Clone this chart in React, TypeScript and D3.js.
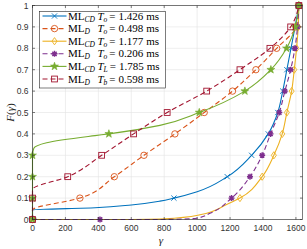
import React from 'react';
import * as d3 from 'd3';

// F(gamma) deciles: gamma value where each series reaches 0, 0.1, ..., 1
const levels = [0, 0.1, 0.2, 0.3, 0.4, 0.5, 0.6, 0.7, 0.8, 0.9, 1];

const blueDeciles = [0, 859, 1183, 1331, 1432, 1490, 1520, 1545, 1570, 1595, 1618];
const orangeDeciles = [0, 288, 497, 677, 865, 1043, 1215, 1357, 1483, 1600, 1618];
const yellowDeciles = [0, 1260, 1395, 1466, 1517, 1545, 1574, 1590, 1604, 1614, 1618];
const purpleDeciles = [410, 1209, 1321, 1395, 1446, 1499, 1533, 1568, 1594, 1610, 1618];
const greenDeciles = [0, 0, 0, 0, 464, 1013, 1290, 1448, 1543, 1596, 1618];
const redDeciles = [0, 0, 214, 420, 614, 818, 1058, 1260, 1442, 1568, 1618];

// extra points read along the curves between markers, [gamma, F]
const blueExtra = [[0, 0.045], [380, 0.055], [600, 0.068], [774, 0.086], [1000, 0.13]];
const orangeExtra = [[0, 0.044]];
const yellowExtra = [[600, 0], [800, 0.003], [1017, 0.022], [1179, 0.07]];
const purpleExtra = [[0, 0], [800, 0.0], [997, 0.006], [1078, 0.029]];
const greenExtra = [[8, 0.333], [86, 0.359], [380, 0.392], [774, 0.44]];
const redExtra = [[0, 0.14]];

const legendLabels = [
  ['CD', 'o', '1.426'],
  ['D', 'o', '0.498'],
  ['CD', 'o', '1.177'],
  ['D', 'o', '0.206'],
  ['CD', 'L', '1.785'],
  ['D', 'b', '0.598'],
];

const xTicks = [0, 200, 400, 600, 800, 1000, 1200, 1400, 1600];
const yTicks = levels;

const series = [
  { deciles: blueDeciles, extra: blueExtra, color: '#0072BD', dash: '', marker: 'x' },
  { deciles: orangeDeciles, extra: orangeExtra, color: '#D95319', dash: '5,3', marker: 'o' },
  { deciles: yellowDeciles, extra: yellowExtra, color: '#EDB120', dash: '', marker: 'd' },
  { deciles: purpleDeciles, extra: purpleExtra, color: '#7E2F8E', dash: '5,3', marker: '*' },
  { deciles: greenDeciles, extra: greenExtra, color: '#77AC30', dash: '', marker: 'p' },
  { deciles: redDeciles, extra: redExtra, color: '#A2142F', dash: '5,3', marker: 's' },
];

const W = 307;
const H = 249;
const left = 32.5;
const right = 302.5;
const top = 5.5;
const bottom = 219.5;
const axisColor = '#262626';

function Marker({ type, x, y, color }: { type: string; x: number; y: number; color: string }) {
  const sw = 0.9;
  if (type === 'x') {
    const r = 2.6;
    return (
      <path d={`M${x - r},${y - r}L${x + r},${y + r}M${x - r},${y + r}L${x + r},${y - r}`} stroke={color} strokeWidth={sw} />
    );
  }
  if (type === 'o') return <circle cx={x} cy={y} r={3.2} fill="none" stroke={color} strokeWidth={sw} />;
  if (type === 'd') {
    const r = 3.6;
    return <path d={`M${x},${y - r}L${x + r * 0.7},${y}L${x},${y + r}L${x - r * 0.7},${y}Z`} fill="none" stroke={color} strokeWidth={sw} />;
  }
  if (type === 's') {
    const r = 2.9;
    return <rect x={x - r} y={y - r} width={2 * r} height={2 * r} fill="none" stroke={color} strokeWidth={sw} />;
  }
  if (type === '*') {
    const r = 3;
    const a = r * 0.72;
    return (
      <path
        d={`M${x - r},${y}L${x + r},${y}M${x},${y - r}L${x},${y + r}M${x - a},${y - a}L${x + a},${y + a}M${x - a},${y + a}L${x + a},${y - a}`}
        stroke={color}
        strokeWidth={1.4}
      />
    );
  }
  // pentagram
  const pts: string[] = [];
  for (let i = 0; i < 10; i++) {
    const r = i % 2 === 0 ? 4.2 : 1.7;
    const ang = -Math.PI / 2 + (i * Math.PI) / 5;
    pts.push(`${x + r * Math.cos(ang)},${y + r * Math.sin(ang)}`);
  }
  return <polygon points={pts.join(' ')} fill={color} stroke={color} strokeWidth={0.6} />;
}

export default function App() {
  const x = d3.scaleLinear().domain([0, 1640]).range([left, right]);
  const y = d3.scaleLinear().domain([0, 1]).range([bottom, top]);

  const line = d3
    .line<number[]>()
    .x((d) => x(d[0]))
    .y((d) => y(d[1]))
    .curve(d3.curveMonotoneY);

  const tickFont = { fontFamily: 'Liberation Sans, Arial, sans-serif', fontSize: 8.5, fill: '#333' };

  return (
    <svg width={W} height={H} style={{ position: 'absolute', left: 0, top: 0, background: '#fff' }}>
      <rect x={left} y={top} width={right - left} height={bottom - top} fill="#fff" />
      {/* grid */}
      {xTicks.map((t) => (
        <line key={'gx' + t} x1={x(t)} x2={x(t)} y1={top} y2={bottom} stroke="#e3e3e3" strokeWidth={0.6} />
      ))}
      {yTicks.map((t) => (
        <line key={'gy' + t} x1={left} x2={right} y1={y(t)} y2={y(t)} stroke="#e3e3e3" strokeWidth={0.6} />
      ))}

      {/* series */}
      {series.map((s, si) => {
        const pts = [...s.deciles.map((g, i) => [g, levels[i]]), ...s.extra].sort((a, b) => a[1] - b[1] || a[0] - b[0]);
        return (
          <g key={si}>
            <path d={line(pts) || ''} fill="none" stroke={s.color} strokeWidth={1.1} strokeDasharray={s.dash} />
            {s.deciles.map((g, i) => (
              <Marker key={i} type={s.marker} x={x(g)} y={y(levels[i])} color={s.color} />
            ))}
          </g>
        );
      })}

      {/* box and ticks */}
      <rect x={left} y={top} width={right - left} height={bottom - top} fill="none" stroke={axisColor} strokeWidth={0.6} />
      {xTicks.map((t) => (
        <g key={'tx' + t}>
          <line x1={x(t)} x2={x(t)} y1={bottom} y2={bottom - 2.5} stroke={axisColor} strokeWidth={0.6} />
          <line x1={x(t)} x2={x(t)} y1={top} y2={top + 2.5} stroke={axisColor} strokeWidth={0.6} />
          <text x={x(t)} y={bottom + 11.5} textAnchor="middle" {...tickFont}>
            {t}
          </text>
        </g>
      ))}
      {yTicks.map((t) => (
        <g key={'ty' + t}>
          <line x1={left} x2={left + 2.5} y1={y(t)} y2={y(t)} stroke={axisColor} strokeWidth={0.6} />
          <line x1={right} x2={right - 2.5} y1={y(t)} y2={y(t)} stroke={axisColor} strokeWidth={0.6} />
          <text x={left - 4} y={y(t) + 3} textAnchor="end" {...tickFont}>
            {d3.format('~g')(t)}
          </text>
        </g>
      ))}

      {/* axis labels */}
      <text x={161} y={244} textAnchor="middle" fontFamily="Liberation Serif, serif" fontStyle="italic" fontSize={11} fill={axisColor}>
        γ
      </text>
      <text transform={`translate(14,${(top + bottom) / 2}) rotate(-90)`} textAnchor="middle" fontFamily="Liberation Serif, serif" fontSize={11} fill={axisColor}>
        <tspan fontStyle="italic">F</tspan>(<tspan fontStyle="italic">γ</tspan>)
      </text>

      {/* legend */}
      <rect x={39.5} y={11.5} width={126} height={76.5} fill="#fff" stroke={axisColor} strokeWidth={0.6} />
      {series.map((s, i) => {
        const ly = 16 + i * 12.6;
        const [sub, tsub, val] = legendLabels[i];
        return (
          <g key={'lg' + i}>
            <line x1={42.5} x2={66.5} y1={ly} y2={ly} stroke={s.color} strokeWidth={1.1} strokeDasharray={s.dash} />
            <Marker type={s.marker} x={54.5} y={ly} color={s.color} />
            <text x={68} y={ly + 3.6} fontFamily="Liberation Serif, serif" fontSize={11} fill="#000">
              ML
              <tspan fontSize={7.5} fontStyle="italic" dy={2}>
                {sub}
              </tspan>
              <tspan dy={-2} dx={sub === 'D' ? 7.5 : 2.5} fontStyle="italic">
                T
              </tspan>
              <tspan fontSize={7.5} fontStyle="italic" dy={2}>
                {tsub}
              </tspan>
              <tspan dy={-2} dx={2}>=</tspan>
              <tspan dx={3}>{val}</tspan>
              <tspan dx={3}>ms</tspan>
            </text>
          </g>
        );
      })}
    </svg>
  );
}
